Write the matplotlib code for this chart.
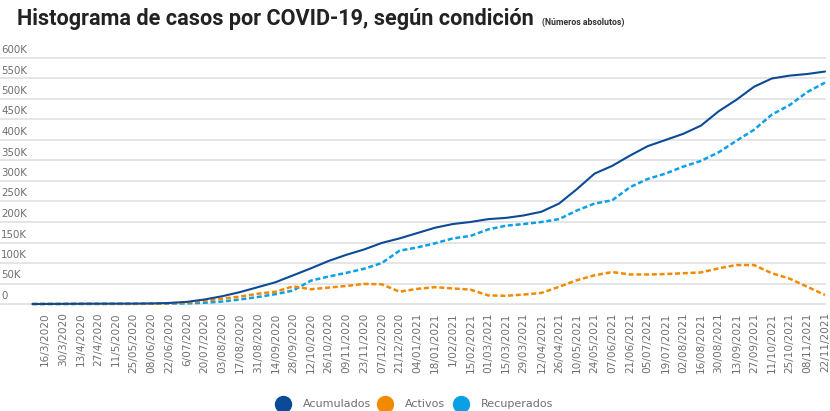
import matplotlib
matplotlib.use("Agg")
from matplotlib import pyplot as plt
from matplotlib.lines import Line2D
import matplotlib.transforms as mtransforms
import pandas as pd

# data (thousands of cases), first point = 6/3/2020
fechas = pd.to_datetime(["2020-03-06"]).append(pd.date_range("2020-03-16", "2021-11-22", freq="14D"))

acumulados = [0, 0.1, 0.3, 0.6, 0.7, 0.8, 0.95, 1.3, 2.5, 5.2, 11, 19, 29, 41, 53, 70,
              87, 105, 120, 133, 149, 160, 173, 186, 195, 200, 207, 210, 216, 225, 245,
              280, 318, 337, 362, 385, 400, 415, 435, 470, 498, 530, 550, 557, 561, 567]
activos = [0, 0.1, 0.3, 0.5, 0.4, 0.3, 0.3, 0.6, 1.5, 3.7, 8, 13, 18, 25, 30, 43,
           36, 40, 44, 49, 48, 30, 37, 41, 38, 35, 21, 20, 23, 27, 42,
           58, 70, 78, 72, 72, 73, 75, 77, 87, 95, 95, 75, 62, 42, 22]
recuperados = [0, 0, 0, 0.1, 0.2, 0.4, 0.5, 0.7, 1.0, 1.5, 3, 6, 11, 17, 24, 33,
               57, 67, 76, 86, 100, 130, 138, 148, 160, 166, 182, 191, 195, 200, 207,
               228, 245, 253, 285, 305, 318, 335, 349, 370, 398, 425, 462, 485, 517, 540]

tick_labels = ["16/3/2020", "30/3/2020", "13/4/2020", "27/4/2020", "11/5/2020", "25/05/2020",
               "08/06/2020", "22/06/2020", "6/07/2020", "20/07/2020", "03/08/2020", "17/08/2020",
               "31/08/2020", "14/09/2020", "28/09/2020", "12/10/2020", "26/10/2020", "09/11/2020",
               "23/11/2020", "07/12/2020", "21/12/2020", "04/01/2021", "18/01/2021", "1/02/2021",
               "15/02/2021", "01/03/2021", "15/03/2021", "29/03/2021", "12/04/2021", "26/04/2021",
               "10/05/2021", "24/05/2021", "07/06/2021", "21/06/2021", "05/07/2021", "19/07/2021",
               "02/08/2021", "16/08/2021", "30/08/2021", "13/09/2021", "27/09/2021", "11/10/2021",
               "25/10/2021", "08/11/2021", "22/11/2021"]

y_ticks = [0, 50, 100, 150, 200, 250, 300, 350, 400, 450, 500, 550, 600]
y_labels = ["0", "50K", "100K", "150K", "200K", "250K", "300K", "350K", "400K",
            "450K", "500K", "550K", "600K"]

series = ["Acumulados", "Activos", "Recuperados"]
colors = ["#0b4a96", "#f28a00", "#0ba0e6"]

W, H = 830, 411
fig = plt.figure(figsize=(W / 100, H / 100), dpi=100)
ax = fig.add_axes([0, 1 - 304 / H, 825 / W, (304 - 58) / H])

x = fechas
ax.plot(x, [v * 1000 for v in acumulados], color=colors[0], lw=1.5, clip_on=False,
        solid_capstyle="round", zorder=4)
ax.plot(x, [v * 1000 for v in recuperados], color=colors[2], lw=1.8, ls=(0, (2.0, 1.1)),
        clip_on=False, zorder=3)
ax.plot(x, [v * 1000 for v in activos], color=colors[1], lw=1.8, ls=(0, (2.0, 1.1)),
        clip_on=False, zorder=3)

tick_dates = fechas[1:]
day_px = (825 - 45) / 616.0
ax.set_xlim(tick_dates[0] - pd.Timedelta(days=45 / day_px), tick_dates[-1])
ax.set_ylim(0, 600000)

for s in ax.spines.values():
    s.set_visible(False)
ax.set_yticks([])
for v in y_ticks:
    ax.axhline(v * 1000, color="#e3e3e3", lw=1.3, zorder=1, clip_on=False)

# y labels sit above their gridline at the left edge
trans = mtransforms.blended_transform_factory(fig.transFigure, ax.transData)
off = mtransforms.ScaledTranslation(0, 8 / 100, fig.dpi_scale_trans)
for v, lab in zip(y_ticks, y_labels):
    ax.text(1 / W, v * 1000, lab, transform=trans + off, ha="left", va="center",
            fontsize=7.4, color="#6f6f6f", family="DejaVu Sans")

ax.set_xticks(tick_dates)
ax.set_xticklabels(tick_labels, rotation=90, fontsize=7.6, color="#6f6f6f", va="top")
ax.tick_params(axis="x", length=0, pad=6)

# title
fig.text(17 / W, 1 - 25 / H, "Histograma de casos por COVID-19, según condición",
         fontsize=15.6, fontweight="bold", family="Roboto", color="#222222", va="baseline")
fig.text(542 / W, 1 - 25 / H, "(Números absolutos)", fontsize=6.3, fontweight="bold",
         family="Roboto", color="#333333", va="baseline")

# legend
legend_x = [283, 385, 461]
for name, col, cx in zip(series, colors, legend_x):
    fig.add_artist(Line2D([cx / W], [1 - 404 / H], marker="o", markersize=11.5,
                          color=col, transform=fig.transFigure))
    fig.text((cx + 20) / W, 1 - 404 / H, name, fontsize=8, color="#6f6f6f",
             va="center", ha="left")

fig.savefig("out.png", dpi=100)
